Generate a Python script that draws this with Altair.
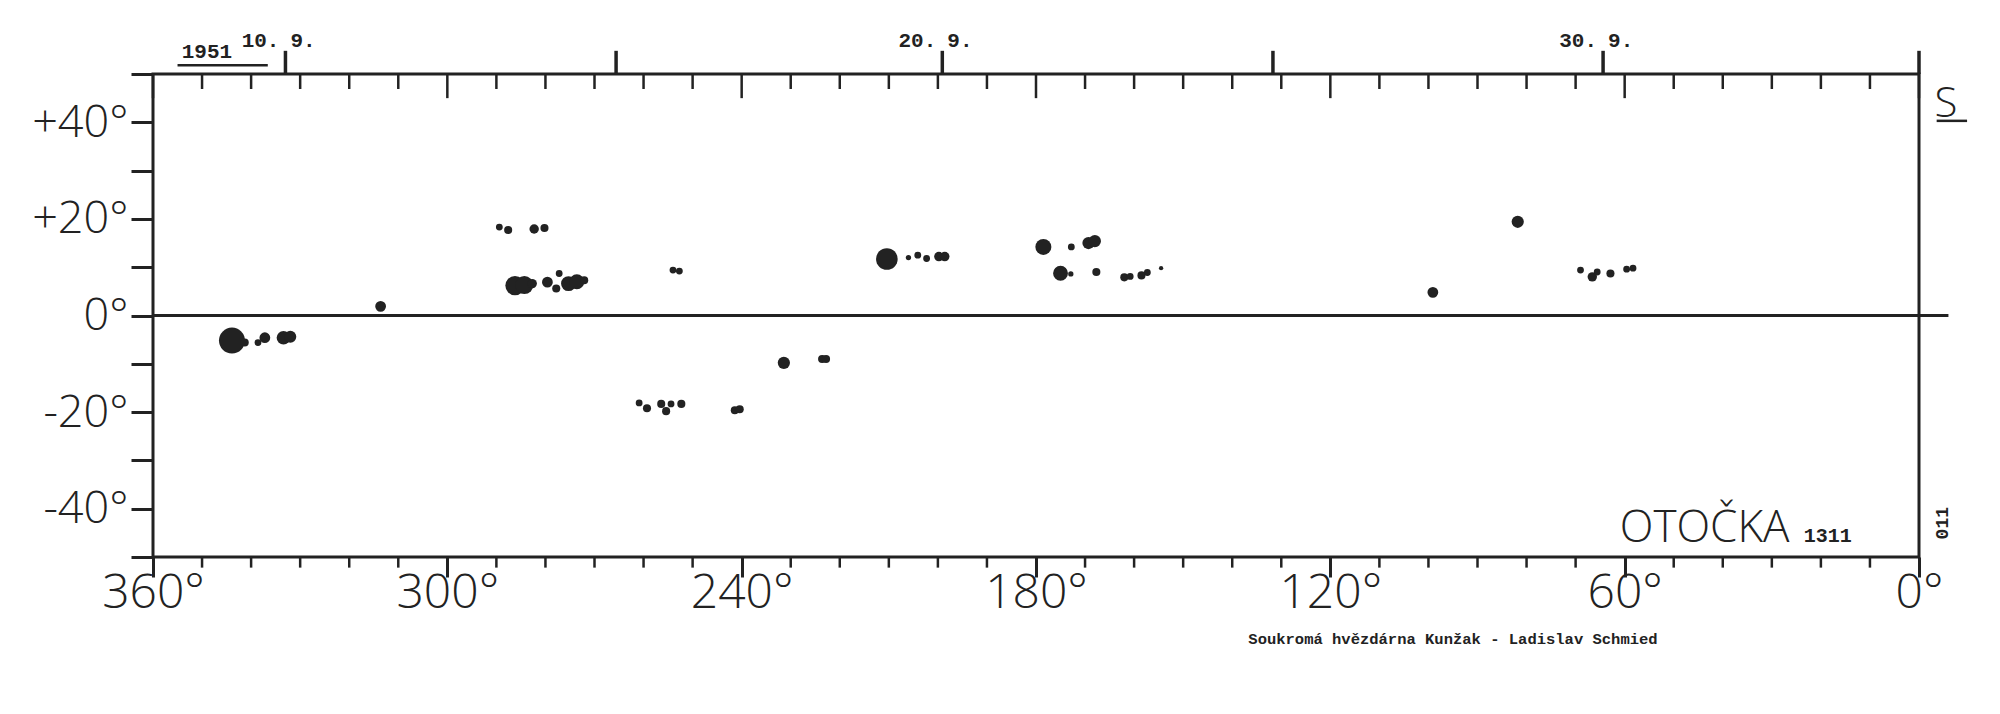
import altair as alt
import pandas as pd

# ---- sunspots (Carrington longitude, latitude, relative umbral size)
spot_lon = [343.9, 341.3, 338.6, 337.2, 333.4, 332.0,
            313.6,
            289.4, 287.6, 282.3, 280.2,
            286.2, 284.3, 282.7, 279.6, 277.2, 277.8, 275.3, 273.6, 272.1,
            254.0, 252.7,
            260.9, 259.3, 256.4, 255.4, 254.4, 252.3,
            241.4, 240.4, 231.4, 223.6, 222.8,
            210.4, 206.0, 204.1, 202.3, 199.8, 198.6,
            178.5, 172.8, 169.3, 168.0,
            175.0, 172.9, 167.7, 162.0, 160.8, 158.5, 157.3, 154.5,
            99.1, 81.8,
            69.0, 66.6, 65.6, 62.9, 59.6, 58.3]
spot_lat = [-5.2, -5.6, -5.6, -4.6, -4.6, -4.4,
            1.9,
            18.3, 17.7, 17.9, 18.1,
            6.2, 6.3, 6.6, 6.9, 8.7, 5.6, 6.6, 7.0, 7.3,
            9.4, 9.2,
            -18.1, -19.2, -18.3, -19.8, -18.3, -18.3,
            -19.6, -19.4, -9.8, -9.0, -9.0,
            11.7, 12.0, 12.5, 11.8, 12.2, 12.2,
            14.2, 14.2, 15.0, 15.4,
            8.75, 8.6, 9.0, 7.9, 8.1, 8.3, 8.9, 9.8,
            4.8, 19.4,
            9.4, 8.0, 9.0, 8.7, 9.6, 9.8]
spot_size = [290, 28, 20, 50, 80, 60,
             50,
             20, 28, 38, 28,
             160, 140, 38, 50, 20, 28, 95, 95, 28,
             20, 20,
             20, 28, 28, 28, 20, 28,
             28, 28, 64, 28, 28,
             200, 12, 20, 20, 38, 38,
             110, 20, 64, 64,
             95, 12, 28, 28, 20, 28, 20, 8,
             50, 64,
             20, 38, 20, 28, 20, 20]

# ---- axes
x_major = [360, 300, 240, 180, 120, 60, 0]
x_minor = [350, 340, 330, 320, 310, 290, 280, 270, 260, 250, 230, 220, 210, 200, 190,
           170, 160, 150, 140, 130, 110, 100, 90, 80, 70, 50, 40, 30, 20, 10]
y_ticks = [50, 40, 30, 20, 10, 0, -10, -20, -30, -40, -50]

# ---- dates of the rotation (top scale)
date_lon = [333.0, 265.6, 199.1, 131.7, 64.4, 0.0]
label_lon = [333.0, 199.1, 64.4]
label_day = ["10.", "20.", "30."]
label_month = ["9.", "9.", "9."]

INK = "#222222"
W, H = 1766, 483

spots = pd.DataFrame({"lon": spot_lon, "lat": spot_lat, "size": spot_size})
minor = pd.DataFrame({"lon": x_minor})
major = pd.DataFrame({"lon": x_major})
dates = pd.DataFrame({"lon": date_lon})
dlabels = pd.DataFrame({"lon": label_lon, "day": label_day, "month": label_month})

xs = alt.Scale(domain=[360, 0], nice=False, zero=False)
ys = alt.Scale(domain=[-50, 50], nice=False, zero=False)

AX = alt.Axis(values=x_major, labelExpr="datum.value + '°'", title=None,
              domain=False, grid=False, tickSize=20, tickWidth=3, tickColor=INK,
              labelFont="Open Sans", labelFontWeight=300, labelFontSize=48,
              labelColor=INK, labelPadding=-8, labelFlush=False, labelOverlap=False)
AY = alt.Axis(values=y_ticks,
              labelExpr="(abs(datum.value) == 40 || abs(datum.value) == 20 || datum.value == 0) ? ((datum.value > 0 ? '+' : '') + datum.value + '°') : ''",
              title=None, domain=False, grid=False, tickSize=22, tickWidth=3,
              tickColor=INK, labelFont="Open Sans", labelFontWeight=300,
              labelFontSize=45, labelColor=INK, labelPadding=3,
              labelFlush=False, labelOverlap=False)


def X(v):
    if isinstance(v, str):
        return alt.X(v, scale=xs, axis=AX)
    return alt.datum(v, scale=xs, axis=AX)


def Y(v):
    if isinstance(v, str):
        return alt.Y(v, scale=ys, axis=AY)
    return alt.datum(v, scale=ys, axis=AY)


pts = alt.Chart(spots).mark_circle(color=INK, opacity=1).encode(
    x=X("lon:Q"), y=Y("lat:Q"),
    size=alt.Size("size:Q", scale=alt.Scale(type="linear", domain=[0, 300], range=[0, 700]), legend=None),
)

zero_line = alt.Chart().mark_rule(color=INK, strokeWidth=3).encode(
    x=X(360), x2=alt.datum(-6), y=Y(0))

bottom_minor = alt.Chart(minor).mark_rule(color=INK, strokeWidth=2.5).encode(
    x=X("lon:Q"), y=Y(-50), y2=alt.datum(-52.2))

top_minor = alt.Chart(minor).mark_rule(color=INK, strokeWidth=2.5).encode(
    x=X("lon:Q"), y=Y(50), y2=alt.datum(46.9))

top_major = alt.Chart(major).mark_rule(color=INK, strokeWidth=2.5).encode(
    x=X("lon:Q"), y=Y(50), y2=alt.datum(45.0))

date_ticks = alt.Chart(dates).mark_rule(color=INK, strokeWidth=3.5).encode(
    x=X("lon:Q"), y=Y(50), y2=alt.datum(54.8))

day_text = alt.Chart(dlabels).mark_text(font="Liberation Mono", fontWeight="bold", fontSize=21,
                                        color=INK, align="right", baseline="alphabetic", dx=-6).encode(
    x=X("lon:Q"), y=Y(55.6), text="day:N")
month_text = alt.Chart(dlabels).mark_text(font="Liberation Mono", fontWeight="bold", fontSize=21,
                                          color=INK, align="left", baseline="alphabetic", dx=5).encode(
    x=X("lon:Q"), y=Y(55.6), text="month:N")


def label(text, lon, lat, **kw):
    return alt.Chart().mark_text(color=INK, **kw).encode(
        x=X(lon), y=Y(lat), text=alt.value(text))


def seg(lon1, lon2, lat, width=2.5):
    return alt.Chart().mark_rule(color=INK, strokeWidth=width).encode(
        x=X(lon1), x2=alt.datum(lon2), y=Y(lat))


year = label("1951", 349.0, 53.3, font="Liberation Mono", fontWeight="bold", fontSize=21,
             align="center", baseline="alphabetic")
year_line = seg(355.0, 336.6, 51.8)
south = label("S", -5.5, 41.2, font="Open Sans", fontWeight=300, fontSize=42,
              align="center", baseline="alphabetic")
south_line = seg(-3.6, -9.8, 40.3)
name = label("OTOČKA", 61.0, -46.8, font="Open Sans", fontWeight=300, fontSize=44,
             align="left", baseline="alphabetic")
num = label("1311", 23.5, -46.8, font="Liberation Mono", fontWeight="bold", fontSize=20,
            align="left", baseline="alphabetic")
sheet = label("011", -4.9, -43.0, font="Liberation Mono", fontWeight="bold", fontSize=18,
              align="center", baseline="middle", angle=270)
footer = label("Soukromá hvězdárna Kunžak - Ladislav Schmied", 95.0, -67.0,
               font="Liberation Mono", fontWeight="bold", fontSize=15.5,
               align="center", baseline="middle")

chart = alt.layer(
    pts, zero_line, bottom_minor, top_minor, top_major, date_ticks, day_text, month_text,
    year, year_line, south, south_line, name, num, sheet, footer,
).properties(
    width=W, height=H,
    padding={"left": 145, "top": 66, "right": 70, "bottom": 138},
    autosize=alt.AutoSizeParams(type="none"),
    background="white",
).configure_view(stroke=INK, strokeWidth=3)

chart.save("out.html", embed_options={"renderer": "svg", "actions": False})
